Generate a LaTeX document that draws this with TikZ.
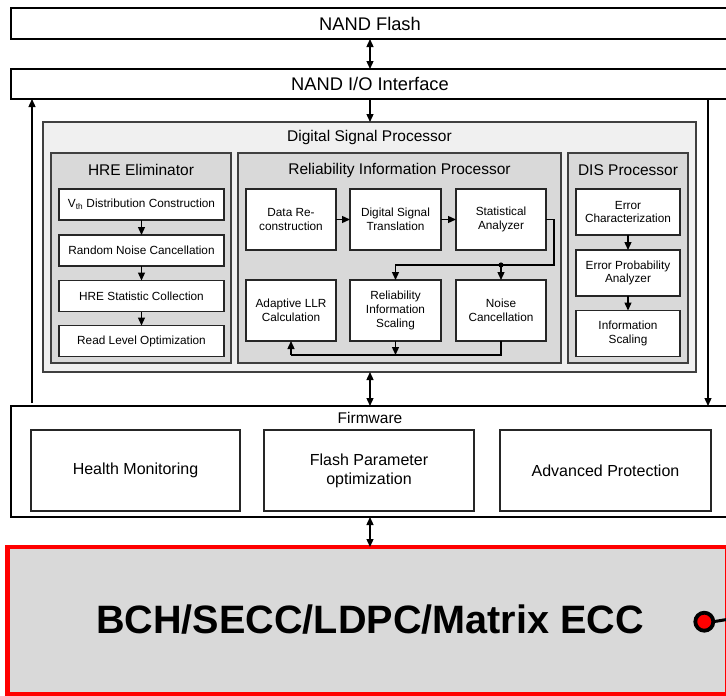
\documentclass[tikz,border=0pt]{standalone}
\usepackage{fontspec}
\setmainfont{Liberation Sans}
\usetikzlibrary{arrows.meta}
\definecolor{dspfill}{HTML}{F0F0F0}
\definecolor{subfill}{HTML}{D9D9D9}
\definecolor{edgegray}{HTML}{404040}
\begin{document}
\begin{tikzpicture}[x=1pt,y=-1pt,
  tip/.tip={Triangle[length=8pt,width=7pt]},
  arr/.style={-tip, line width=1.3pt},
  darr/.style={tip-tip, line width=1.3pt},
  conn/.style={line width=1.3pt},
  bigbox/.style={draw=black, line width=1.6pt, fill=white, inner sep=0pt, outer sep=0pt},
  dspbox/.style={draw=edgegray, line width=1.4pt, fill=dspfill, inner sep=0pt, outer sep=0pt},
  subbox/.style={draw=edgegray, line width=1.4pt, fill=subfill, inner sep=0pt, outer sep=0pt},
  inbox/.style={draw=black!85, line width=1.4pt, fill=white, inner sep=0pt, outer sep=0pt,
    align=center, font=\fontsize{11.8}{13.8}\selectfont},
  fwbox/.style={draw=black!85, line width=1.4pt, fill=white, inner sep=0pt, outer sep=0pt,
    align=center, font=\fontsize{16}{19}\selectfont},
  title/.style={font=\fontsize{15.5}{18}\selectfont, inner sep=0pt},
  toplabel/.style={font=\fontsize{18.3}{21}\selectfont}
]
\useasboundingbox (0,0) rectangle (726,696);
\fill[white] (0,0) rectangle (726,696);

% top boxes
\node[bigbox, minimum width=718pt, minimum height=31pt, toplabel] (flash) at (370,23.5) {NAND Flash};
\node[bigbox, minimum width=718pt, minimum height=30pt, toplabel] (io) at (370,84) {NAND I/O Interface};

% DSP
\node[dspbox, minimum width=653pt, minimum height=250pt] (dsp) at (369.5,247) {};
\node[title] (dsptitle) at (369.5,137) {Digital Signal Processor};

\node[subbox, minimum width=180pt, minimum height=210pt] (hre) at (141,258) {};
\node[subbox, minimum width=323pt, minimum height=210pt] (rip) at (399.5,258) {};
\node[subbox, minimum width=120pt, minimum height=210pt] (dis) at (628,258) {};
\node[title] (hretitle) at (141,170) {HRE Eliminator};
\node[title] (riptitle) at (399.5,170) {Reliability Information Processor};
\node[title] (distitle) at (628,170) {DIS Processor};

% HRE inner
\node[inbox, minimum width=165pt, minimum height=31pt] (vth) at (141.5,204.5) {V\textsubscript{th} Distribution Construction};
\node[inbox, minimum width=165pt, minimum height=31pt] (rnc) at (141.5,250.5) {Random Noise Cancellation};
\node[inbox, minimum width=165pt, minimum height=31pt] (hsc) at (141.5,296) {HRE Statistic Collection};
\node[inbox, minimum width=165pt, minimum height=31pt] (rlo) at (141.5,341) {Read Level Optimization};
\draw[arr] (vth) -- (rnc);
\draw[arr] (rnc) -- (hsc);
\draw[arr] (hsc) -- (rlo);

% RIP inner
\node[inbox, minimum width=90pt, minimum height=61pt] (drc) at (291,219.5) {Data Re-\\construction};
\node[inbox, minimum width=91pt, minimum height=61pt] (dst) at (395.5,219.5) {Digital Signal\\Translation};
\node[inbox, minimum width=90pt, minimum height=61pt] (sa) at (501,219.5) {Statistical\\Analyzer};
\node[inbox, minimum width=90pt, minimum height=61pt] (llr) at (291,310.5) {Adaptive LLR\\Calculation};
\node[inbox, minimum width=91pt, minimum height=61pt] (ris) at (395.5,310.5) {Reliability\\Information\\Scaling};
\node[inbox, minimum width=90pt, minimum height=61pt] (nc) at (501,310.5) {Noise\\Cancellation};
\draw[arr] (drc) -- (dst);
\draw[arr] (dst) -- (sa);
\coordinate (sar) at (554,265);
\coordinate (jn) at (501,265);
\coordinate (bot) at (501,355);
\coordinate (botl) at (291,355);
\coordinate (botm) at (395.5,355);
\draw[conn] (sa.east) -| (sar) -- (jn);
\draw[arr] (jn) -| (ris.north);
\draw[arr] (jn) -- (nc.north);
\fill (jn) circle (2.6pt);
\draw[conn] (nc.south) -- (bot) -- (botl);
\draw[arr] (botl) -- (llr.south);
\draw[arr] (ris.south) -- (botm);

% DIS inner
\node[inbox, minimum width=104pt, minimum height=46pt] (ec) at (628,212) {Error\\Characterization};
\node[inbox, minimum width=104pt, minimum height=46pt] (epa) at (628,273) {Error Probability\\Analyzer};
\node[inbox, minimum width=104pt, minimum height=46pt] (is) at (628,333.5) {Information\\Scaling};
\draw[arr] (ec) -- (epa);
\draw[arr] (epa) -- (is);

% Firmware
\node[bigbox, minimum width=718pt, minimum height=111pt] (fw) at (370,461.5) {};
\node[title] (fwtitle) at (370,418) {Firmware};
\node[fwbox, minimum width=209pt, minimum height=81pt] (hm) at (135.5,470.5) {Health Monitoring};
\node[fwbox, minimum width=210pt, minimum height=81pt] (fpo) at (369,470.5) {Flash Parameter\\optimization};
\node[fwbox, minimum width=211pt, minimum height=81pt] (ap) at (605.5,470.5) {Advanced Protection};

% ECC box
\node[draw=red, line width=4.8pt, fill=subfill, minimum width=720pt, minimum height=147pt,
  inner sep=0pt, outer sep=0pt] (ecc) at (367.25,620.5) {};
\node[font=\fontsize{39.6}{44}\selectfont\bfseries, inner sep=0pt] (ecctext) at (370,620) {BCH/SECC/LDPC/Matrix ECC};
\node[circle, draw=black, line width=3.8pt, fill=red, minimum size=18pt, inner sep=0pt, outer sep=0pt] (port) at (704.3,621.7) {};
\coordinate (portend) at (730,619);
\draw[line width=3pt] (port.east) -- (portend);

% connectors between layers
\draw[darr] (flash.south) -- (io.north);
\draw[arr] (io.south) -- (io.south |- dsp.north);
\draw[darr] (dsp.south -| io.south) -- (fw.north);
\draw[darr] (fw.south) -- (fw.south |- ecc.north);
\coordinate (lbot) at (32,403);
\coordinate (rbot) at (708,406);
\draw[arr] (lbot) -- (lbot |- io.south);
\draw[arr] (rbot |- io.south) -- (rbot);
\end{tikzpicture}
\end{document}
